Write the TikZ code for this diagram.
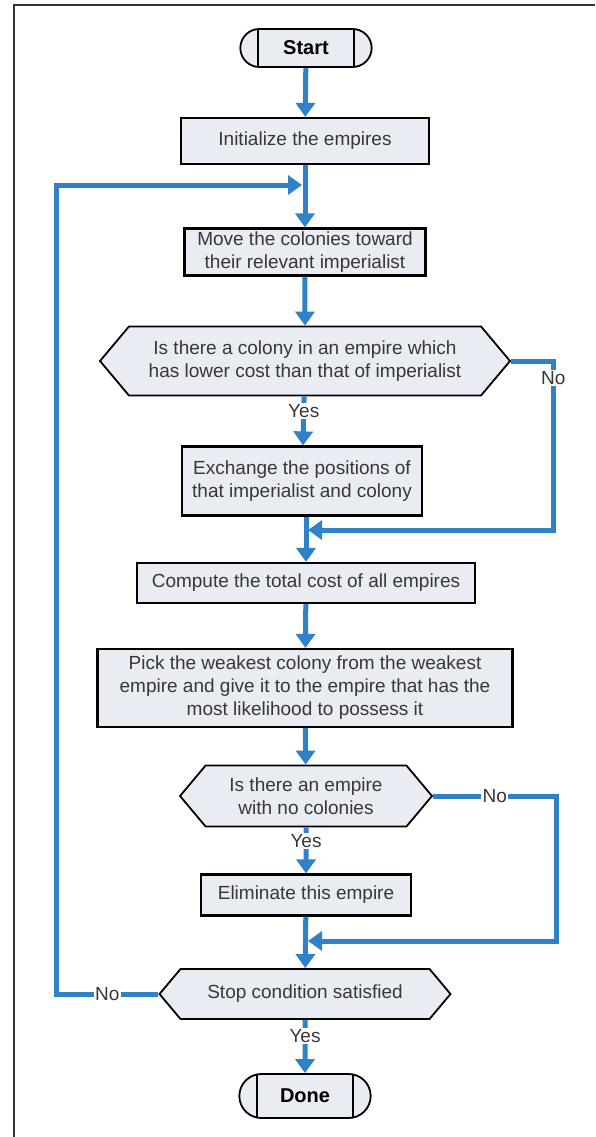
\documentclass[tikz,border=0pt]{standalone}
\usepackage{fontspec}
\setmainfont{Liberation Sans}
\usetikzlibrary{arrows.meta,shapes.symbols,shapes.misc}
\definecolor{flowblue}{RGB}{47,130,200}
\definecolor{boxfill}{RGB}{233,237,243}
\definecolor{txtgray}{RGB}{55,55,55}
\tikzset{
  process/.style={rectangle, draw=black, line width=2.2pt, fill=boxfill, text=txtgray, align=center, inner sep=0pt},
  decision/.style={signal, signal to=east and west, signal pointer angle=100, draw=black, line width=1.8pt, fill=boxfill, text=txtgray, align=center, inner sep=0pt},
  terminal/.style={rounded rectangle, draw=black, line width=1.8pt, fill=boxfill, font=\fontsize{20}{24}\selectfont\bfseries, minimum width=138pt, minimum height=38pt,
    path picture={\draw[line width=1.8pt] ([xshift=18pt]path picture bounding box.north west) -- ([xshift=18pt]path picture bounding box.south west)
      ([xshift=-18pt]path picture bounding box.north east) -- ([xshift=-18pt]path picture bounding box.south east);}},
  flow/.style={draw=flowblue, line width=5pt, -{Triangle[length=14pt,width=19pt]}},
  lbl/.style={fill=white, text=txtgray, inner sep=1.5pt}
}
\begin{document}
\begin{tikzpicture}[x=1pt,y=-1pt, every node/.append style={font=\fontsize{19}{23}\selectfont}]
  \useasboundingbox (0,0) rectangle (595,1137);
  % frame
  \draw[line width=1.8pt, black!80] (14,1137) -- (14,5) -- (595,5);
  % steps
  \node[terminal] (start) at (306,48) {Start};
  \node[process, minimum width=248pt, minimum height=46pt] (init) at (305,141) {Initialize the empires};
  \node[process, minimum width=241pt, minimum height=47pt] (move) at (305,252) {Move the colonies toward\\their relevant imperialist};
  \node[decision, minimum width=410pt, minimum height=69pt] (test1) at (305,361) {Is there a colony in an empire which\\has lower cost than that of imperialist};
  \node[process, minimum width=240pt, minimum height=69pt] (swap) at (302,481) {Exchange the positions of\\that imperialist and colony};
  \node[process, minimum width=338pt, minimum height=40pt] (cost) at (306,583) {Compute the total cost of all empires};
  \node[process, minimum width=415pt, minimum height=78pt] (pick) at (305,688) {Pick the weakest colony from the weakest\\empire and give it to the empire that has the\\most likelihood to possess it};
  \node[decision, minimum width=252pt, minimum height=61pt] (test2) at (306,796) {Is there an empire\\with no colonies};
  \node[process, minimum width=210pt, minimum height=41pt] (elim) at (306,895) {Eliminate this empire};
  \node[decision, minimum width=291pt, minimum height=50pt] (stop) at (305,994) {Stop condition satisfied};
  \node[terminal, minimum height=44pt] (done) at (305,1096) {Done};
  % merge points
  \coordinate (loopin) at (302,185);
  \coordinate (join1) at (308,530);
  \coordinate (join2) at (308,941);
  % main flow
  \draw[flow] (start) -- (init);
  \draw[flow] (init) -- (move);
  \draw[flow] (move) -- (test1);
  \draw[flow] (test1) -- node[lbl, pos=0.3] {Yes} (swap);
  \draw[flow] (swap.south -| cost.north) -- (cost);
  \draw[flow] (cost) -- (pick);
  \draw[flow] (pick) -- (test2);
  \draw[flow] (test2) -- node[lbl, pos=0.3] {Yes} (elim);
  \draw[flow] (elim) -- (stop);
  \draw[flow] (stop) -- node[lbl, pos=0.3] {Yes} (done);
  % branches
  \draw[flow] (test1.east) -- ++(42,0) coordinate (no1) -- node[lbl, pos=0.1] {No} (no1 |- join1) -- (join1);
  \draw[flow] (test2.east) -- node[lbl] {No} ++(123,0) coordinate (no2) -- (no2 |- join2) -- (join2);
  \draw[flow] (stop.west) -- node[lbl] {No} ++(-102,0) coordinate (no3) -- (no3 |- loopin) -- (loopin);
\end{tikzpicture}
\end{document}
